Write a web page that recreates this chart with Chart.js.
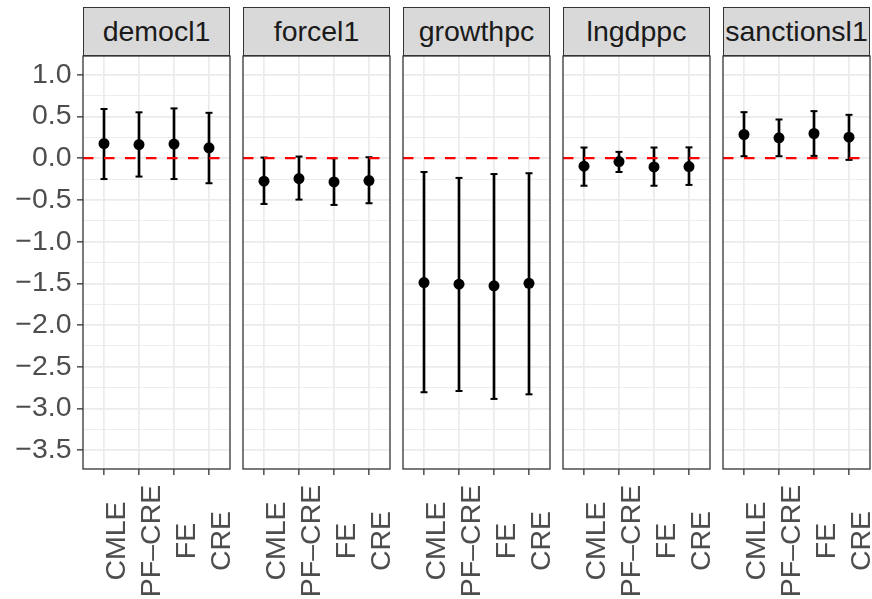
<!DOCTYPE html>
<html>
<head>
<meta charset="utf-8">
<script src="https://cdn.jsdelivr.net/npm/chart.js@4/dist/chart.umd.min.js"></script>
<style>
  html, body { margin: 0; padding: 0; background: #fff; }
  #wrap {
    position: relative;
    width: 872px;
    height: 599px;
    overflow: hidden;
    font-family: "Liberation Sans", Arial, sans-serif;
  }
  .strip {
    position: absolute;
    top: 7px;
    height: 49px;
    width: 147px;
    box-sizing: border-box;
    background: #d9d9d9;
    border: 1.3px solid #333;
    color: #1a1a1a;
    font-size: 28.5px;
    line-height: 47px;
    text-align: center;
    white-space: nowrap;
  }
  canvas { position: absolute; top: 54px; }
</style>
</head>
<body>
<div id="wrap"></div>
<script>
// facets and methods
const variables = ["democl1", "forcel1", "growthpc", "lngdppc", "sanctionsl1"];
const categories = ["CMLE", "PF–CRE", "FE", "CRE"];

// estimates per facet, in the order of categories
const pointEst = [
  [0.176, 0.164, 0.170, 0.124],
  [-0.276, -0.244, -0.284, -0.268],
  [-1.49, -1.51, -1.53, -1.50],
  [-0.096, -0.040, -0.104, -0.100],
  [0.284, 0.244, 0.296, 0.252],
];
const lowerCI = [
  [-0.25, -0.22, -0.25, -0.30],
  [-0.548, -0.496, -0.56, -0.54],
  [-2.805, -2.79, -2.885, -2.83],
  [-0.33, -0.165, -0.33, -0.32],
  [0.024, 0.024, 0.028, -0.02],
];
const upperCI = [
  [0.59, 0.55, 0.597, 0.544],
  [0.008, 0.02, 0.0, 0.012],
  [-0.165, -0.236, -0.19, -0.18],
  [0.128, 0.076, 0.128, 0.13],
  [0.552, 0.464, 0.564, 0.52],
];

// y axis ticks
const yMajor = [-3.5, -3, -2.5, -2, -1.5, -1, -0.5, 0, 0.5, 1];
const yLabels = ["−3.5", "−3.0", "−2.5", "−2.0", "−1.5", "−1.0", "−0.5", "0.0", "0.5", "1.0"];
const yMinor = [-3.25, -2.75, -2.25, -1.75, -1.25, -0.75, -0.25, 0.25, 0.75];
const refLine = 0;

const FONT = '"Liberation Sans", Arial, sans-serif';
const CLEAR = "rgba(0,0,0,0)";
const wrap = document.getElementById("wrap");

const noPadding = (s) => {
  s.paddingTop = 0;
  s.paddingBottom = 0;
  s.paddingLeft = 0;
  s.paddingRight = 0;
};

// panel border and centred, rotated method labels
const panelDecor = {
  id: "panelDecor",
  afterDatasetsDraw(chart) {
    const { ctx, chartArea: a } = chart;
    ctx.save();
    ctx.strokeStyle = "#333";
    ctx.lineWidth = 1.3;
    ctx.strokeRect(a.left, a.top, a.right - a.left, a.bottom - a.top);
    ctx.restore();
  },
  afterDraw(chart) {
    const { ctx, chartArea: a } = chart;
    const xScale = chart.scales.x;
    ctx.save();
    ctx.fillStyle = "#4d4d4d";
    ctx.font = "28.5px " + FONT;
    ctx.textAlign = "center";
    ctx.textBaseline = "alphabetic";
    categories.forEach((label, k) => {
      const px = xScale.getPixelForValue(k + 1);
      ctx.save();
      ctx.translate(px + 21, a.bottom + 72);
      ctx.rotate(-Math.PI / 2);
      ctx.fillText(label, 0, 0);
      ctx.restore();
    });
    ctx.restore();
  },
};

function makePanel(i) {
  const first = i === 0;
  const left = 83 + 160 * i;

  const strip = document.createElement("div");
  strip.className = "strip";
  strip.style.left = left + "px";
  strip.textContent = variables[i];
  wrap.appendChild(strip);

  const canvas = document.createElement("canvas");
  canvas.width = first ? 232 : 151;
  canvas.height = 545;
  canvas.style.left = (first ? 0 : left - 2) + "px";
  wrap.appendChild(canvas);

  const xs = categories.map((c, k) => k + 1);
  const isCat = (c) => !!c.tick && xs.includes(c.tick.value);
  const isMajor = (c) => !!c.tick && yMajor.includes(c.tick.value);

  new Chart(canvas, {
    type: "scatter",
    data: {
      datasets: [
        {
          type: "line",
          data: [{ x: 0.4, y: refLine }, { x: 4.6, y: refLine }],
          borderColor: "#ff0000",
          borderWidth: 2.2,
          borderDash: [10.5, 10.5],
          pointRadius: 0,
          order: 0,
        },
        {
          type: "scatter",
          data: xs.map((x, k) => ({ x, y: pointEst[i][k] })),
          pointRadius: 5.5,
          backgroundColor: "#000",
          borderWidth: 0,
          order: 1,
        },
        {
          type: "scatter",
          data: xs.flatMap((x, k) => [
            { x, y: lowerCI[i][k] },
            { x, y: upperCI[i][k] },
          ]),
          pointStyle: "line",
          pointRadius: 3.5,
          borderColor: "#000",
          borderWidth: 2,
          order: 2,
        },
        {
          type: "bar",
          data: xs.map((x, k) => ({ x, y: [lowerCI[i][k], upperCI[i][k]] })),
          backgroundColor: "#000",
          barThickness: 2,
          grouped: false,
          order: 3,
        },
      ],
    },
    options: {
      responsive: false,
      animation: false,
      devicePixelRatio: 1,
      events: [],
      layout: {
        autoPadding: false,
        padding: { left: first ? 0 : 2, right: 2, top: 2, bottom: 0 },
      },
      plugins: { legend: { display: false }, tooltip: { enabled: false } },
      scales: {
        x: {
          type: "linear",
          min: 0.4,
          max: 4.6,
          bounds: "data",
          offset: false,
          afterBuildTicks: (s) => { s.ticks = xs.map((v) => ({ value: v })); },
          afterFit: (s) => { s.height = 130; noPadding(s); },
          ticks: { display: false, autoSkip: false },
          grid: {
            offset: false,
            color: (c) => (isCat(c) ? "#ebebeb" : CLEAR),
            lineWidth: 1.7,
            drawTicks: true,
            tickLength: 6,
            tickColor: (c) => (isCat(c) ? "#333" : CLEAR),
            tickWidth: 1.3,
          },
          border: { display: false },
        },
        y: {
          type: "linear",
          min: -3.725,
          max: 1.225,
          bounds: "data",
          afterBuildTicks: (s) => {
            s.ticks = yMajor.concat(yMinor).sort((a, b) => a - b).map((v) => ({ value: v }));
          },
          afterFit: (s) => { s.width = first ? 83 : 0; noPadding(s); },
          ticks: {
            display: first,
            autoSkip: false,
            padding: 5.5,
            color: "#4d4d4d",
            font: { family: FONT, size: 28.5 },
            callback: (v) => {
              const k = yMajor.indexOf(v);
              return k >= 0 ? yLabels[k] : "";
            },
          },
          grid: {
            offset: false,
            color: "#ebebeb",
            lineWidth: (c) => (isMajor(c) ? 1.7 : 0.9),
            drawTicks: first,
            tickLength: 6,
            tickColor: (c) => (isMajor(c) ? "#333" : CLEAR),
            tickWidth: 1.3,
          },
          border: { display: false },
        },
      },
    },
    plugins: [panelDecor],
  });
}

variables.forEach((v, i) => makePanel(i));
</script>
</body>
</html>
